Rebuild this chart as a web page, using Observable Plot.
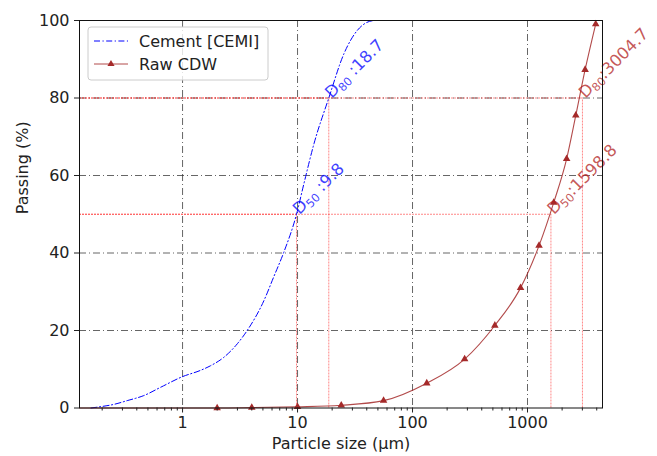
<!DOCTYPE html>
<html>
<head>
<meta charset="utf-8">
<script src="https://cdn.jsdelivr.net/npm/d3@7"></script>
<script src="https://cdn.jsdelivr.net/npm/@observablehq/plot@0.6"></script>
<style>
  html, body { margin: 0; padding: 0; background: #fff; }
  #chart svg { display: block; }
</style>
</head>
<body>
<div id="chart"></div>
<script>
// ---- data ----
const cementSize    = [0.16, 0.2, 0.25, 0.33, 0.46, 0.65, 1.0, 1.43, 1.75, 2.29, 3.0, 3.65, 5.1, 6.2, 7.6, 9.8, 11.3, 13.9, 18.7, 25.3, 33, 40, 46];
const cementPassing = [0, 0.4, 0.9, 1.9, 3.2, 5.4, 8.1, 9.7, 10.9, 13.1, 16.6, 20, 27.7, 33.8, 40.2, 50, 57.6, 68.2, 80, 91.4, 97.4, 99.5, 100];

const cdwSize    = [2, 4, 10, 24, 56, 133, 284, 520, 870, 1260, 1690, 2190, 2630, 3170, 3920];
const cdwPassing = [0, 0.1, 0.3, 0.7, 1.9, 6.4, 12.6, 21.3, 31, 41.9, 53, 64.3, 75.5, 87.3, 99.1];
const cdwLineStart = {size: 0.127, passing: 0};

const refValues  = [9.8, 18.7, 1598.8, 3004.7];
const refPassing = [50, 80, 50, 80];
const refLabels  = ["D_50 :9.8", "D_80 :18.7", "D_50:1598.8", "D_80:3004.7"];
const refSeries  = ["cement", "cement", "cdw", "cdw"];

const xTicks = [1, 10, 100, 1000];
const yTicks = [0, 20, 40, 60, 80, 100];
const gridY  = [20, 40, 60, 80];
const minorTicks = [0.2,0.3,0.4,0.5,0.6,0.7,0.8,0.9, 2,3,4,5,6,7,8,9, 20,30,40,50,60,70,80,90, 200,300,400,500,600,700,800,900, 2000,3000,4000];
const xDomain = [0.127, 4490];

const legendLabels = ["Cement [CEMI]", "Raw CDW"];
const xLabel = "Particle size (µm)";
const yLabel = "Passing (%)";

// ---- tables ----
const cement = cementSize.map((s, i) => ({size: s, passing: cementPassing[i]}));
const cdw = cdwSize.map((s, i) => ({size: s, passing: cdwPassing[i]}));
const cdwLine = [cdwLineStart, ...cdw];
const refs = refValues.map((v, i) => ({v, p: refPassing[i], label: refLabels[i], series: refSeries[i]}));

const colors = {cement: "blue", cdw: "#a52a2a"};
const textColors = {cement: "rgba(0,0,255,0.75)", cdw: "rgba(178,34,34,0.75)"};
const dashDot = "6,2.5,1.2,2.5";
const gridDash = "7,3,1,3";
const FS = 16;

function legend(index, scales, values, dimensions) {
  const g = d3.create("svg:g").attr("font-family", "DejaVu Sans").attr("font-size", FS).attr("text-anchor", "start");
  const x0 = dimensions.marginLeft + 9, y0 = dimensions.marginTop + 7;
  g.append("rect").attr("x", x0).attr("y", y0).attr("width", 180).attr("height", 53)
    .attr("rx", 3).attr("fill", "white").attr("fill-opacity", 0.8).attr("stroke", "#ccc");
  legendLabels.forEach((lab, i) => {
    const yy = y0 + 14 + i * 23;
    const key = i === 0 ? "cement" : "cdw";
    g.append("line").attr("x1", x0 + 6).attr("x2", x0 + 40).attr("y1", yy).attr("y2", yy)
      .attr("stroke", colors[key]).attr("stroke-width", 1)
      .attr("stroke-opacity", i === 0 ? 1 : 0.85)
      .attr("stroke-dasharray", i === 0 ? dashDot : null);
    if (i === 1) {
      const cx = x0 + 23;
      g.append("path").attr("d", d3.symbol(d3.symbolTriangle, 22)()).attr("transform", `translate(${cx},${yy})`)
        .attr("fill", colors.cdw);
    }
    g.append("text").attr("x", x0 + 51).attr("y", yy).attr("dy", "0.35em").attr("fill", "#222").text(lab);
  });
  return g.node();
}

const chart = Plot.plot({
  width: 657,
  height: 456,
  marginLeft: 79,
  marginRight: 55,
  marginTop: 20,
  marginBottom: 48.5,
  style: {fontFamily: "DejaVu Sans", fontSize: FS + "px", color: "#222", background: "white"},
  x: {type: "log", domain: xDomain},
  y: {domain: [0, 100]},
  marks: [
    Plot.gridX(xTicks, {stroke: "#333", strokeOpacity: 0.75, strokeDasharray: gridDash}),
    Plot.gridY(gridY, {stroke: "#333", strokeOpacity: 0.75, strokeDasharray: gridDash}),
    Plot.ruleY(refs, {y: "p", x1: xDomain[0], x2: "v", stroke: "red", strokeOpacity: 0.8, strokeWidth: 0.6, strokeDasharray: "2,1"}),
    Plot.ruleX(refs, {x: "v", y1: 0, y2: "p", stroke: "red", strokeOpacity: 0.8, strokeWidth: 0.6, strokeDasharray: "2,1"}),
    Plot.line(cement, {x: "size", y: "passing", stroke: colors.cement, strokeWidth: 1, strokeDasharray: dashDot, curve: "monotone-x"}),
    Plot.line(cdwLine, {x: "size", y: "passing", stroke: colors.cdw, strokeOpacity: 0.85, strokeWidth: 1.1, curve: "monotone-x"}),
    Plot.dot(cdw, {x: "size", y: "passing", symbol: "triangle", r: 2.8, fill: colors.cdw, stroke: "none"}),
    Plot.text(refs, {x: "v", y: "p", text: "label", rotate: -45, textAnchor: "start", lineAnchor: "bottom", dx: 3, dy: 1,
      fill: d => textColors[d.series], fontSize: 16.5, className: "dlabel"}),
    Plot.frame({stroke: "#111", strokeWidth: 1}),
    Plot.axisX(xTicks, {tickSize: 5, tickPadding: 4, tickFormat: d => String(d), label: null, fontSize: FS}),
    Plot.axisX(minorTicks, {tickSize: 3, tickFormat: () => "", label: null}),
    Plot.axisY(yTicks, {tickSize: 5, tickPadding: 5, label: null, fontSize: FS}),
    Plot.text([xLabel], {frameAnchor: "bottom", dy: 41, fontSize: FS, fill: "#222"}),
    Plot.text([yLabel], {frameAnchor: "left", dx: -57, rotate: -90, fontSize: FS, fill: "#222"}),
    legend
  ]
});

// render subscripts in the D-value labels
d3.select(chart).selectAll("g.dlabel text").each(function() {
  const t = d3.select(this);
  const m = /^D_(\d+)(.*)$/.exec(t.text());
  if (!m) return;
  t.text(null);
  t.append("tspan").text("D");
  t.append("tspan").attr("font-size", 11.5).attr("dy", 3).text(m[1]);
  t.append("tspan").attr("dy", -3).text(m[2]);
});

document.getElementById("chart").appendChild(chart);
</script>
</body>
</html>
